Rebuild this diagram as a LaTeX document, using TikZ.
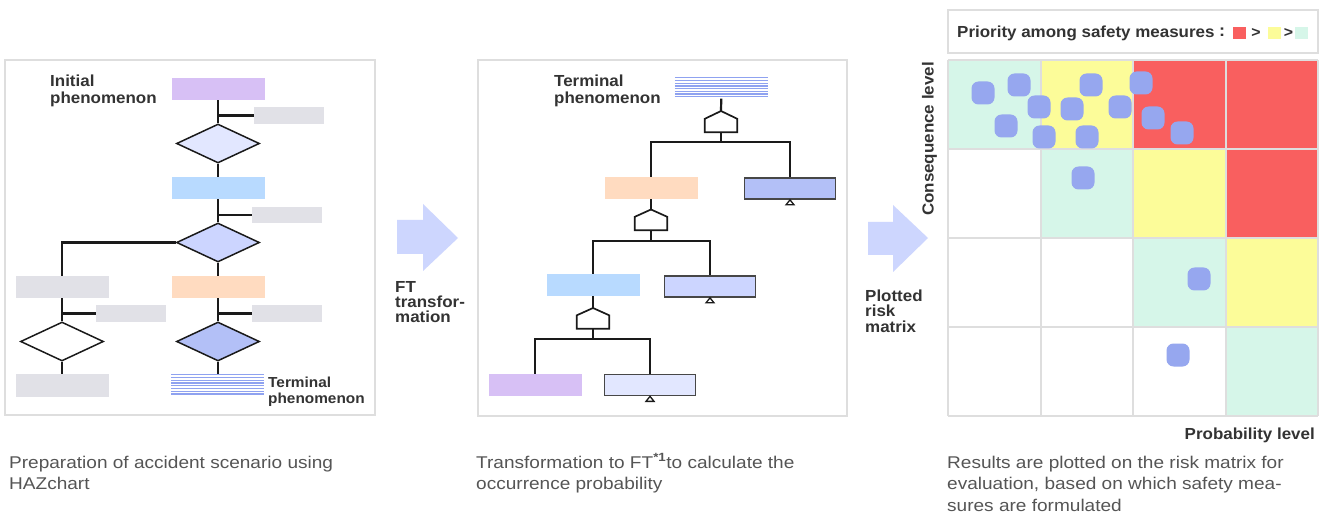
\documentclass[tikz,border=0pt]{standalone}
\usepackage{fontspec}
\setmainfont{Liberation Sans}
\newfontfamily\lblfont{Liberation Sans}[FakeStretch=1.06]
\newfontfamily\capfont{Liberation Sans}[FakeStretch=1.12]
\usetikzlibrary{shapes.geometric}

\definecolor{lineblk}{HTML}{1A1A1A}
\definecolor{framegray}{HTML}{DEDEDE}
\definecolor{evpurple}{HTML}{D7C0F5}
\definecolor{evgray}{HTML}{E1E1E7}
\definecolor{evblue}{HTML}{B8DAFF}
\definecolor{evorange}{HTML}{FFDBC0}
\definecolor{lavA}{HTML}{E2E7FF}
\definecolor{lavB}{HTML}{CCD5FF}
\definecolor{lavC}{HTML}{B3C0F7}
\definecolor{stripe}{HTML}{8FA2F0}
\definecolor{arrowfill}{HTML}{CDD6FE}
\definecolor{riskred}{HTML}{F95F5F}
\definecolor{riskyellow}{HTML}{FCFC99}
\definecolor{riskmint}{HTML}{D6F6E9}
\definecolor{dotblue}{HTML}{96A7EF}
\definecolor{labeltext}{HTML}{333333}
\definecolor{captext}{HTML}{555555}

\tikzset{
  evbox/.style={rectangle, inner sep=0pt, minimum width=93pt, minimum height=22pt, fill=#1},
  smallgray/.style={rectangle, inner sep=0pt, minimum width=70pt, minimum height=17pt, fill=evgray},
  decision/.style={diamond, inner sep=0pt, minimum width=83pt, minimum height=39pt,
                   draw=lineblk, line width=1.5pt, fill=#1},
  ftbox/.style={rectangle, inner sep=0pt, minimum width=91pt, minimum height=21pt,
                draw=black!72, line width=1.7pt, fill=#1},
  striped/.style={rectangle, inner sep=0pt, minimum width=93pt, minimum height=21pt},
  gatebody/.style={rectangle, inner sep=0pt, minimum width=32pt, minimum height=13pt},
  gateline/.style={draw=lineblk, line width=1.7pt, fill=white, line join=miter},
  link/.style={draw=lineblk, line width=2.2pt},
  transfer/.style={draw=lineblk, line width=1.3pt, fill=white},
  lbl/.style={inner sep=0pt, anchor=north west, align=left, text=labeltext},
  captxt/.style={inner sep=0pt, anchor=north west, align=left, text=captext,
                 font=\capfont\fontsize{17}{21.5}\selectfont},
  panel/.style={draw=framegray, line width=2pt},
  bigarrow/.style={fill=arrowfill},
}

\newcommand{\lblsize}[2]{\lblfont\bfseries\fontsize{#1}{#2}\selectfont}

\begin{document}
\begin{tikzpicture}[x=1pt,y=-1pt]
\useasboundingbox (0,0) rectangle (1326,513);
\fill[white] (0,0) rectangle (1326,513);

% ---------- HAZchart panel ----------
\draw[panel] (5,60) rectangle (375,415);
\node[lbl, font=\lblsize{16}{17}] (initlbl) at (50,74.5) {Initial\\phenomenon};

\node[evbox=evpurple] (P1) at (218,89) {};
\node[smallgray] (G1) at (289,115.5) {};
\node[decision=lavA] (D1) at (218,143.5) {};
\node[evbox=evblue] (B1) at (218,188) {};
\node[smallgray, minimum height=16pt] (G2) at (287,215) {};
\node[decision=lavB] (D2) at (218,242.5) {};
\node[evbox=evgray] (G3) at (62,287) {};
\node[smallgray] (G4) at (131,313.5) {};
\node[decision=white] (D3) at (62,341.5) {};
\node[evbox=evgray, minimum height=23pt] (G5) at (62,385.5) {};
\node[evbox=evorange] (O1) at (218,287) {};
\node[smallgray] (G6) at (287,313.5) {};
\node[decision=lavC] (D4) at (218,341.5) {};
\node[striped] (S1) at (218,384.5) {};
\foreach \k in {0,...,7}
  \draw[stripe, line width=1.3pt] (S1.north west) ++(0,{1+2.75*\k}) -- ++(93,0);
\node[lbl, font=\lblsize{14.5}{16}] (termlblA) at (268,377) {Terminal\\phenomenon};

\draw[link] (P1) -- (D1);
\draw[link] (G1.west -| P1.south) -- (G1.west);
\draw[link] (D1) -- (B1);
\draw[link] (B1) -- (D2);
\draw[link] (G2.west -| B1.south) -- (G2.west);
\draw[link] (D2) -- (O1);
\draw[link] (D2.west) -| (G3.north);
\draw[link] (G3) -- (D3);
\draw[link] (G4.west -| G3.south) -- (G4.west);
\draw[link] (D3) -- (G5);
\draw[link] (O1) -- (D4);
\draw[link] (G6.west -| O1.south) -- (G6.west);
\draw[link] (D4) -- (S1);

% ---------- arrow and caption: FT transformation ----------
\fill[bigarrow] (397,220) -- (423,220) -- (423,204) -- (458,238) -- (423,271) -- (423,254) -- (397,254) -- cycle;
\node[lbl, font=\lblsize{16}{15}] (ftlbl) at (395,281.5) {FT\\transfor-\\mation};

% ---------- fault tree panel ----------
\draw[panel] (478,60) rectangle (847,416);
\node[lbl, font=\lblsize{16}{17}] (termlblB) at (554,74.5) {Terminal\\phenomenon};

\node[striped] (S2) at (721.5,88) {};
\foreach \k in {0,...,7}
  \draw[stripe, line width=1.3pt] (S2.north west) ++(0,{0.5+2.7*\k}) -- ++(93,0);

% OR gates
\node[gatebody] (gA) at (721,125.5) {};
\coordinate (gAtop) at (721,111);
\draw[gateline] (gA.south west) -- (gA.north west) -- (gAtop) -- (gA.north east) -- (gA.south east) -- cycle;
\node[gatebody] (gB) at (651,223.5) {};
\coordinate (gBtop) at (651,209.5);
\draw[gateline] (gB.south west) -- (gB.north west) -- (gBtop) -- (gB.north east) -- (gB.south east) -- cycle;
\node[gatebody] (gC) at (593,322) {};
\coordinate (gCtop) at (593,308);
\draw[gateline] (gC.south west) -- (gC.north west) -- (gCtop) -- (gC.north east) -- (gC.south east) -- cycle;

\node[evbox=evorange] (O2) at (651,188) {};
\node[ftbox=lavC] (FA) at (790,188.5) {};
\node[evbox=evblue] (B2) at (593,285) {};
\node[ftbox=lavB] (FB) at (710,286.5) {};
\node[evbox=evpurple] (P2) at (535,385) {};
\node[ftbox=lavA] (FC) at (650,385) {};

\coordinate (jA) at (721,142);
\coordinate (jB) at (651,241);
\coordinate (jC) at (593,339);

\draw[link] (S2) -- (gAtop);
\draw[link] (gA.south) -- (jA);
\draw[link] (O2.north) |- (jA) -| (FA.north);
\draw[link] (O2) -- (gBtop);
\draw[link] (gB.south) -- (jB);
\draw[link] (B2.north) |- (jB) -| (FB.north);
\draw[link] (B2) -- (gCtop);
\draw[link] (gC.south) -- (jC);
\draw[link] (P2.north) |- (jC) -| (FC.north);

\draw[transfer] (FA.south) -- ++(-4,5) -- ++(8,0) -- cycle;
\draw[transfer] (FB.south) -- ++(-4,5) -- ++(8,0) -- cycle;
\draw[transfer] (FC.south) -- ++(-4,5) -- ++(8,0) -- cycle;

% ---------- arrow and caption: risk matrix ----------
\fill[bigarrow] (868,222) -- (893,222) -- (893,205) -- (928,238) -- (893,272) -- (893,255) -- (868,255) -- cycle;
\node[lbl, font=\lblsize{16}{15.5}] (rmlbl) at (865,289.5) {Plotted\\risk\\matrix};

% ---------- legend ----------
\draw[panel] (948,10) rectangle (1318,53);
\node[inner sep=0pt, anchor=base west, text=labeltext, font=\lblsize{16}{16}] (prio) at (957,37.5) {Priority among safety measures};
\node[inner sep=0pt, anchor=base, text=labeltext, font=\lblsize{17}{17}] (colon) at (1222,37) {:};
\fill[riskred] (1233,27) rectangle (1246,39);
\node[inner sep=0pt, anchor=base, text=labeltext, font=\lblsize{15}{15}] (gtA) at (1256,38) {>};
\fill[riskyellow] (1268,27) rectangle (1281,39);
\node[inner sep=0pt, anchor=base, text=labeltext, font=\lblsize{15}{15}] (gtB) at (1288.5,38) {>};
\fill[riskmint] (1295,27) rectangle (1308,39);

% ---------- risk matrix ----------
\foreach \c [count=\i from 0] in {riskmint,riskyellow,riskred,riskred,
                                  white,riskmint,riskyellow,riskred,
                                  white,white,riskmint,riskyellow,
                                  white,white,white,riskmint} {
  \pgfmathsetmacro\cx{948+92.5*mod(\i,4)}
  \pgfmathsetmacro\cy{60+89*floor(\i/4)}
  \fill[\c] (\cx,\cy) rectangle ++(92.5,89);
}
\foreach \k in {0,...,4} {
  \draw[panel] ({948+92.5*\k},60) -- ({948+92.5*\k},416);
  \draw[panel] (948,{60+89*\k}) -- (1318,{60+89*\k});
}
\foreach \x/\y in {983/93,1019/85,1039/107,1006/126,1044/137,1072/109,1091/85,1087/137,
                   1120/107,1141/83,1153/118,1182/133,1083/178,1199/279,1178/355}
  \fill[dotblue, rounded corners=7pt] (\x-11.5,\y-11.5) rectangle (\x+11.5,\y+11.5);

\node[inner sep=0pt, anchor=east, rotate=90, text=labeltext, font=\lblsize{16}{16}] (conslbl) at (929.5,62) {Consequence level};
\node[inner sep=0pt, anchor=base east, text=labeltext, font=\lblsize{16}{16}] (problbl) at (1315,439) {Probability level};

% ---------- captions ----------
\node[captxt] (capA) at (9,455.5) {Preparation of accident scenario using\\HAZchart};
\node[captxt] (capB) at (476,455.5) {Transformation to FT\smash{\textsuperscript{\bfseries *1}}to calculate the\\occurrence probability};
\node[captxt] (capC) at (947,455.5) {Results are plotted on the risk matrix for\\evaluation, based on which safety mea-\\sures are formulated};
\end{tikzpicture}
\end{document}
